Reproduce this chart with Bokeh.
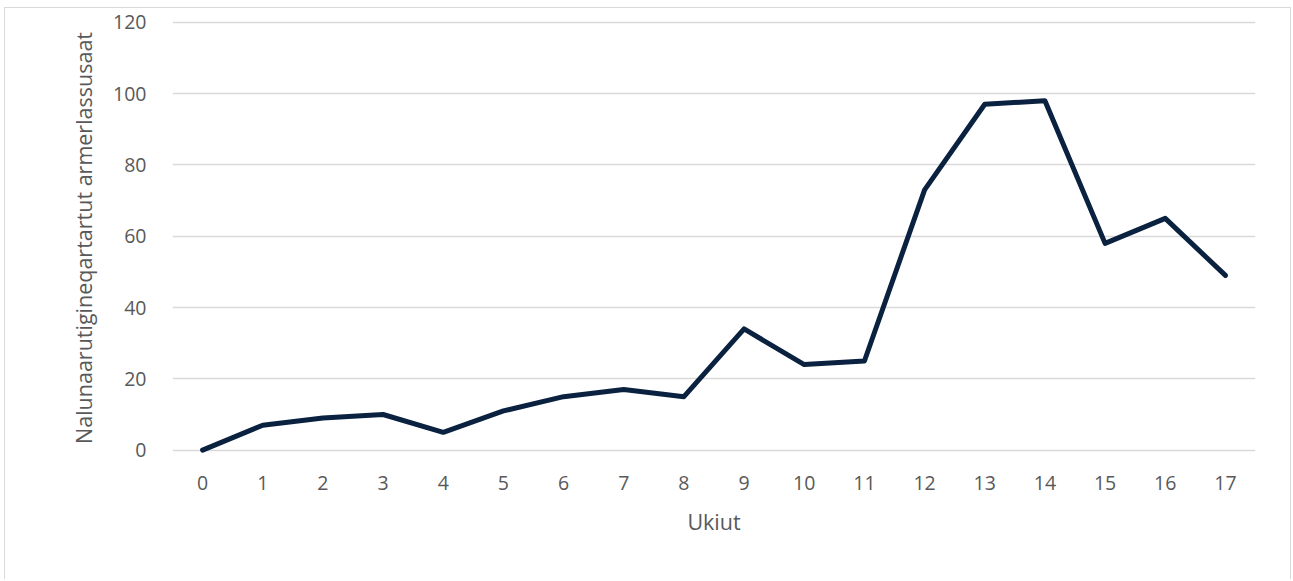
from bokeh.plotting import figure
from bokeh.models import FactorRange, Range1d, FixedTicker
from bokeh.embed import file_html
from bokeh.resources import INLINE

years = [str(i) for i in range(18)]
values = [0, 7, 9, 10, 5, 11, 15, 17, 15, 34, 24, 25, 73, 97, 98, 58, 65, 49]
y_ticks = [0, 20, 40, 60, 80, 100, 120]
x_label = "Ukiut"
y_label = "Nalunaarutigineqartartut armerlassusaat"

FONT = "Open Sans"
GRAY = "#595959"

p = figure(
    x_range=FactorRange(*years, range_padding=0),
    y_range=Range1d(-1.5, 120.5),
    frame_width=1083, frame_height=435,
    min_border_left=167, min_border_right=35, min_border_top=12, min_border_bottom=124,
    output_backend="svg", toolbar_location=None,
    styles={"border": "1px solid #d9d9d9", "border-bottom": "none",
            "margin-left": "4px", "margin-top": "7px"},
)
p.outline_line_color = None
p.xgrid.grid_line_color = None
p.ygrid.grid_line_color = "#d9d9d9"
p.ygrid.grid_line_width = 1.5
p.yaxis.ticker = FixedTicker(ticks=y_ticks)

for ax in (p.xaxis, p.yaxis):
    ax.axis_line_color = None
    ax.major_tick_line_color = None
    ax.minor_tick_line_color = None
    ax.major_label_text_font = FONT
    ax.major_label_text_font_size = "19.5px"
    ax.major_label_text_color = GRAY
    ax.axis_label_text_font = FONT
    ax.axis_label_text_font_size = "21.5px"
    ax.axis_label_text_color = GRAY
    ax.axis_label_text_font_style = "normal"

p.xaxis.axis_label = x_label
p.yaxis.axis_label = y_label
p.yaxis.major_label_standoff = 20
p.xaxis.major_label_standoff = 14
p.yaxis.axis_label_standoff = 12
p.xaxis.axis_label_standoff = 14

p.line(x=years, y=values, line_color="#0a2240", line_width=5, line_join="round", line_cap="round")

open("out.html", "w").write(file_html(p, INLINE))
